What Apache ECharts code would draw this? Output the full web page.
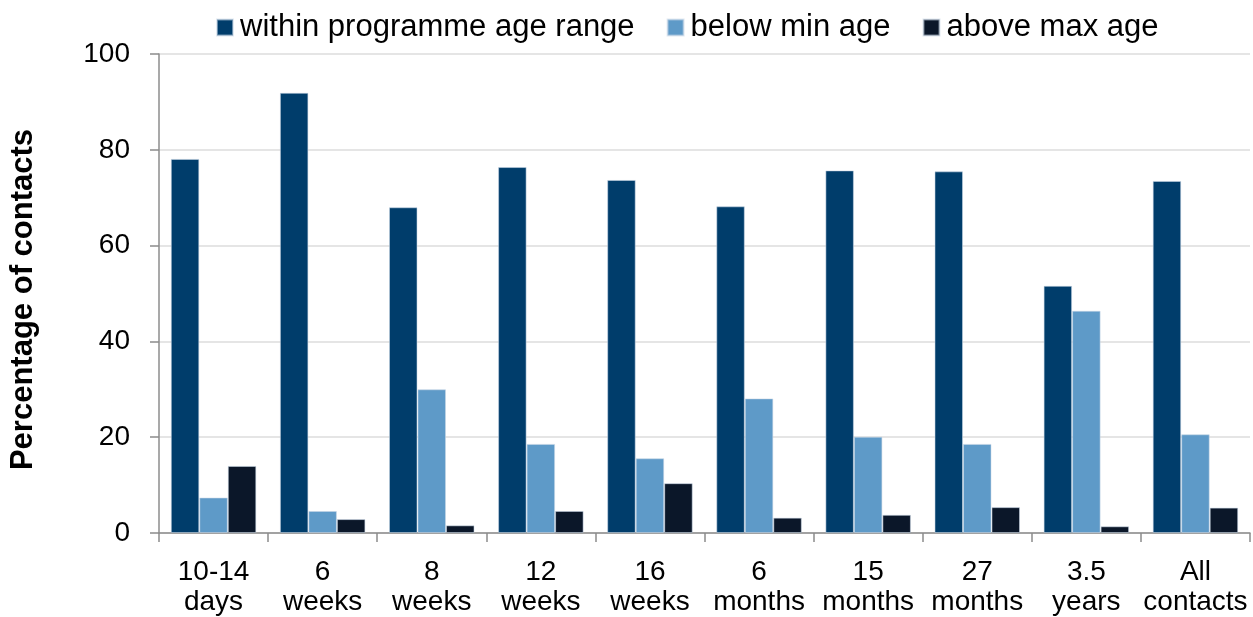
<!DOCTYPE html>
<html>
<head>
<meta charset="utf-8">
<script src="https://cdn.jsdelivr.net/npm/echarts@6/dist/echarts.min.js"></script>
<style>
  html, body { margin: 0; padding: 0; background: #ffffff; }
  #chart { width: 1253px; height: 617px; }
</style>
</head>
<body>
<div id="chart"></div>
<script>
// Contact timing groups (two-line axis labels)
const categories = [
  '10-14\ndays', '6\nweeks', '8\nweeks', '12\nweeks', '16\nweeks',
  '6\nmonths', '15\nmonths', '27\nmonths', '3.5\nyears', 'All\ncontacts'
];

// Percentage of contacts in each age band
const withinRange = [78.1, 91.9, 68.0, 76.4, 73.7, 68.2, 75.7, 75.5, 51.6, 73.5];
const belowMin    = [7.4, 4.6, 30.0, 18.6, 15.6, 28.1, 20.1, 18.6, 46.4, 20.6];
const aboveMax    = [14.0, 2.9, 1.6, 4.6, 10.4, 3.2, 3.8, 5.4, 1.4, 5.3];

const seriesNames = ['within programme age range', 'below min age', 'above max age'];
const yTicks = { min: 0, max: 100, interval: 20 };

const chart = echarts.init(document.getElementById('chart'), null, { renderer: 'canvas' });

const font = 'Liberation Sans, Arial, Helvetica, sans-serif';
const colors = ['#003D6B', '#5E9AC8', '#0B1729'];

function barSeries(name, data, color) {
  return {
    name: name,
    type: 'bar',
    data: data,
    barWidth: 28.5,
    barGap: '0%',
    itemStyle: {
      color: color,
      borderColor: 'rgba(200,215,230,0.55)',
      borderWidth: 1
    },
    emphasis: { disabled: true }
  };
}

chart.setOption({
  animation: false,
  backgroundColor: '#ffffff',
  color: colors,
  textStyle: { fontFamily: font },
  legend: {
    data: seriesNames,
    left: 211,
    top: 7,
    itemWidth: 16,
    itemHeight: 16,
    itemGap: 32,
    icon: 'rect',
    textStyle: { fontFamily: font, fontSize: 31, color: '#000000', padding: [0, 0, 0, 2] }
  },
  grid: {
    left: 153,
    right: 3,
    top: 54,
    bottom: 83,
    containLabel: false
  },
  xAxis: {
    type: 'category',
    data: categories,
    axisLine: { show: true, lineStyle: { color: '#8C8C8C', width: 1.5 } },
    axisTick: { show: true, length: 9, lineStyle: { color: '#8C8C8C', width: 1.5 } },
    axisLabel: {
      fontFamily: font,
      fontSize: 28,
      color: '#000000',
      lineHeight: 30,
      margin: 24,
      interval: 0
    }
  },
  yAxis: {
    type: 'value',
    min: yTicks.min,
    max: yTicks.max,
    interval: yTicks.interval,
    name: 'Percentage of contacts',
    nameLocation: 'middle',
    nameGap: 120,
    nameRotate: 90,
    nameTextStyle: {
      fontFamily: font,
      fontSize: 31,
      fontWeight: 'bold',
      color: '#000000',
      padding: [0, 12, 0, 0]
    },
    axisLine: { show: true, lineStyle: { color: '#8C8C8C', width: 1.5 } },
    axisTick: { show: true, length: 9, lineStyle: { color: '#8C8C8C', width: 1.5 } },
    axisLabel: {
      fontFamily: font,
      fontSize: 28,
      color: '#000000',
      margin: 29
    },
    splitLine: { show: true, lineStyle: { color: '#DDDDDD', width: 1.5 } }
  },
  series: [
    barSeries(seriesNames[0], withinRange, colors[0]),
    barSeries(seriesNames[1], belowMin, colors[1]),
    barSeries(seriesNames[2], aboveMax, colors[2])
  ]
});
</script>
</body>
</html>
